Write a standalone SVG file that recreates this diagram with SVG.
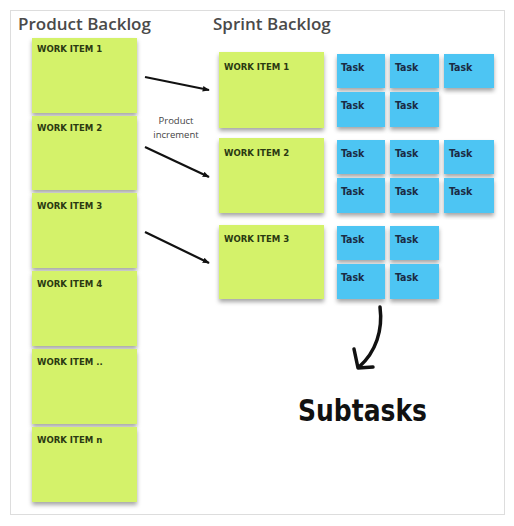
<svg xmlns="http://www.w3.org/2000/svg" width="514" height="526" viewBox="0 0 514 526">
<defs>
<filter id="sh" x="-10%" y="-10%" width="125%" height="130%">
<feDropShadow dx="0" dy="3" stdDeviation="2" flood-color="#000" flood-opacity="0.35"/>
</filter>
<marker id="ah" viewBox="0 0 10 10" refX="9" refY="5" markerWidth="7" markerHeight="7" orient="auto" markerUnits="userSpaceOnUse">
<path d="M0,1 L10,5 L0,9 Z" fill="#111"/>
</marker>
</defs>
<style>
.title{font-family:"Open Sans","DejaVu Sans",sans-serif;font-size:17px;font-weight:600;fill:#4a4a4a}
.wi rect{fill:#d4f26a;filter:url(#sh)}
.wi text{font-family:"DejaVu Sans Condensed","DejaVu Sans",sans-serif;font-weight:bold;font-size:9.5px;fill:#2b3a12}
.tk rect{fill:#4ec5f3;filter:url(#sh)}
.tk text{font-family:"DejaVu Sans Condensed","DejaVu Sans",sans-serif;font-weight:bold;font-size:10.5px;fill:#1b2b44}
.conn line{stroke:#111;stroke-width:2.2;marker-end:url(#ah)}
.lbl{font-family:"Open Sans","DejaVu Sans",sans-serif;font-size:9.5px;fill:#444;text-anchor:middle}
</style>
<rect x="0" y="0" width="514" height="526" fill="#fff"/>
<rect x="10.5" y="10.5" width="494" height="504" fill="#fff" stroke="#ddd" stroke-width="1"/>
<text class="title" x="18" y="30">Product Backlog</text>
<text class="title" x="213" y="30">Sprint Backlog</text>

<g id="pb1" class="wi"><rect x="32" y="38" width="105" height="75"/><text x="37" y="52">WORK ITEM 1</text></g>
<g id="pb2" class="wi"><rect x="32" y="116" width="105" height="74"/><text x="37" y="131">WORK ITEM 2</text></g>
<g id="pb3" class="wi"><rect x="32" y="193" width="105" height="75"/><text x="37" y="209">WORK ITEM 3</text></g>
<g id="pb4" class="wi"><rect x="32" y="271" width="105" height="75"/><text x="37" y="287">WORK ITEM 4</text></g>
<g id="pb5" class="wi"><rect x="32" y="349" width="105" height="75"/><text x="37" y="365">WORK ITEM ..</text></g>
<g id="pb6" class="wi"><rect x="32" y="427" width="105" height="75"/><text x="37" y="443">WORK ITEM n</text></g>

<g id="sb1" class="wi"><rect x="219" y="52" width="105" height="76"/><text x="224" y="70">WORK ITEM 1</text></g>
<g id="sb2" class="wi"><rect x="219" y="138" width="105" height="75"/><text x="224" y="156">WORK ITEM 2</text></g>
<g id="sb3" class="wi"><rect x="219" y="225" width="105" height="74"/><text x="224" y="242">WORK ITEM 3</text></g>

<g id="t1a" class="tk"><rect x="337" y="54" width="48" height="34"/><text x="341" y="71">Task</text></g>
<g id="t1b" class="tk"><rect x="390" y="54" width="49" height="34"/><text x="395" y="71">Task</text></g>
<g id="t1c" class="tk"><rect x="444" y="54" width="50" height="34"/><text x="449" y="71">Task</text></g>
<g id="t1d" class="tk"><rect x="337" y="92" width="48" height="35"/><text x="341" y="109">Task</text></g>
<g id="t1e" class="tk"><rect x="390" y="92" width="49" height="35"/><text x="395" y="109">Task</text></g>

<g id="t2a" class="tk"><rect x="337" y="140" width="48" height="34"/><text x="341" y="157">Task</text></g>
<g id="t2b" class="tk"><rect x="390" y="140" width="49" height="34"/><text x="395" y="157">Task</text></g>
<g id="t2c" class="tk"><rect x="444" y="140" width="50" height="34"/><text x="449" y="157">Task</text></g>
<g id="t2d" class="tk"><rect x="337" y="178" width="48" height="35"/><text x="341" y="195">Task</text></g>
<g id="t2e" class="tk"><rect x="390" y="178" width="49" height="35"/><text x="395" y="195">Task</text></g>
<g id="t2f" class="tk"><rect x="444" y="178" width="50" height="35"/><text x="449" y="195">Task</text></g>

<g id="t3a" class="tk"><rect x="337" y="226" width="48" height="34"/><text x="341" y="243">Task</text></g>
<g id="t3b" class="tk"><rect x="390" y="226" width="49" height="34"/><text x="395" y="243">Task</text></g>
<g id="t3c" class="tk"><rect x="337" y="264" width="48" height="35"/><text x="341" y="281">Task</text></g>
<g id="t3d" class="tk"><rect x="390" y="264" width="49" height="35"/><text x="395" y="281">Task</text></g>

<g id="connectors" class="conn">
<line x1="145" y1="77" x2="209" y2="90"/>
<line x1="145" y1="147" x2="209" y2="177"/>
<line x1="145" y1="232" x2="209" y2="263"/>
<path d="M380,307 C383,330 376,352 359,367" fill="none" stroke="#111" stroke-width="3.5" stroke-linecap="round"/>
<path d="M354,349 L358,368 L373,367" fill="none" stroke="#111" stroke-width="3.5" stroke-linecap="round" stroke-linejoin="round"/>
</g>
<text class="lbl" x="176" y="124">Product</text>
<text class="lbl" x="176" y="138">increment</text>
<text x="298" y="421" textLength="129" lengthAdjust="spacingAndGlyphs" font-family="DejaVu Sans Condensed, DejaVu Sans, sans-serif" font-weight="bold" font-size="30" fill="#111">Subtasks</text>
</svg>
